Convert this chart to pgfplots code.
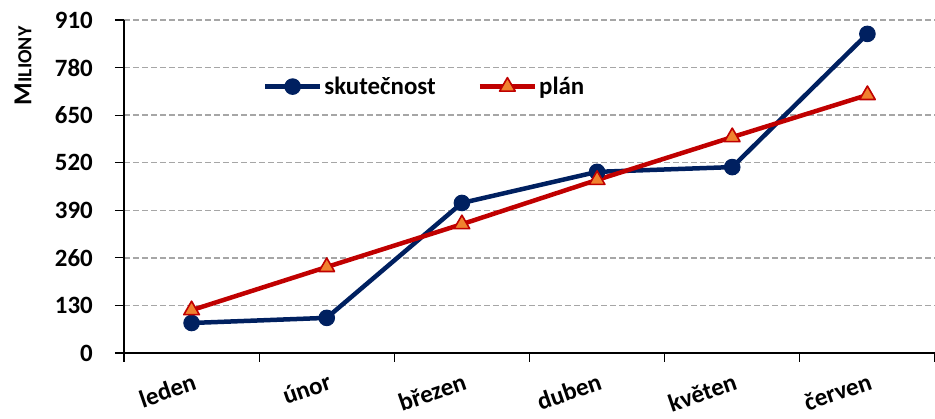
\documentclass[border=0pt]{standalone}
\usepackage{fontspec}
\setmainfont{Carlito}
\usepackage{pgfplots}
\pgfplotsset{compat=1.18}
\definecolor{navy}{HTML}{002060}
\definecolor{dred}{HTML}{C00000}
\definecolor{orng}{HTML}{F0822F}
\definecolor{gridg}{HTML}{A6A6A6}
\begin{document}
\begin{tikzpicture}
\begin{axis}[name=ax,
  scale only axis, width=811bp, height=333bp,
  xmin=-0.5, xmax=5.5, ymin=0, ymax=910,
  ytick={0,130,...,910},
  xtick={0,...,5},
  xticklabels={leden,únor,březen,duben,květen,červen},
  minor xtick={-0.5,0.5,...,5.5},
  axis x line*=bottom, axis y line*=left,
  axis line style={black, line width=1.2bp},
  tick align=outside,
  major tick length=9bp, minor tick length=9bp,
  major x tick style={draw=none},
  minor x tick style={black, line width=1.2bp},
  y tick style={black, line width=1.2bp},
  ymajorgrids,
  major grid style={gridg, dash pattern=on 6bp off 3bp, line width=1.3bp},
  /pgf/number format/assume math mode=true,
  tick label style={font=\fontsize{25}{30}\selectfont\bfseries},
  y tick label style={anchor=east, inner sep=0pt, xshift=-22bp},
  x tick label style={rotate=19, anchor=north east, inner sep=0pt, yshift=-10bp, xshift=-3bp},
  ylabel={M{\fontsize{20}{20}\selectfont ILIONY}},
  ylabel style={at={(rel axis cs:-0.1245,0.862)}, anchor=center, font=\fontsize{26}{30}\selectfont\bfseries},
  legend columns=2,
  legend style={at={(rel axis cs:0.171,0.80)}, anchor=west, draw=none, fill=none,
    font=\fontsize{25}{30}\selectfont\bfseries, inner sep=0pt,
    /tikz/every even column/.append style={column sep=40bp},
    nodes={inner sep=2bp}},
  legend image code/.code={\draw[mark repeat=2,mark phase=2,#1] plot coordinates {(0bp,0bp) (27.5bp,0bp) (55bp,0bp)};},
  clip=false,
]
\addplot[navy, line width=4.5bp, mark=*, mark size=7.8bp,
  mark options={solid, fill=navy, draw=navy, line width=1bp}]
  coordinates {(0,82) (1,96) (2,410) (3,495) (4,508) (5,872)};
\addlegendentry{skutečnost}
\addplot[dred, line width=4.5bp, mark=triangle*, mark size=9bp,
  mark options={solid, fill=orng, draw=dred, line width=1.6bp, line join=round}]
  coordinates {(0,117) (1,235) (2,352) (3,473) (4,590) (5,705)};
\addlegendentry{plán}
\end{axis}
\pgfresetboundingbox
\path ([xshift=-124bp,yshift=-66bp]ax.south west) rectangle ([yshift=20bp]ax.north east);
\end{tikzpicture}
\end{document}
